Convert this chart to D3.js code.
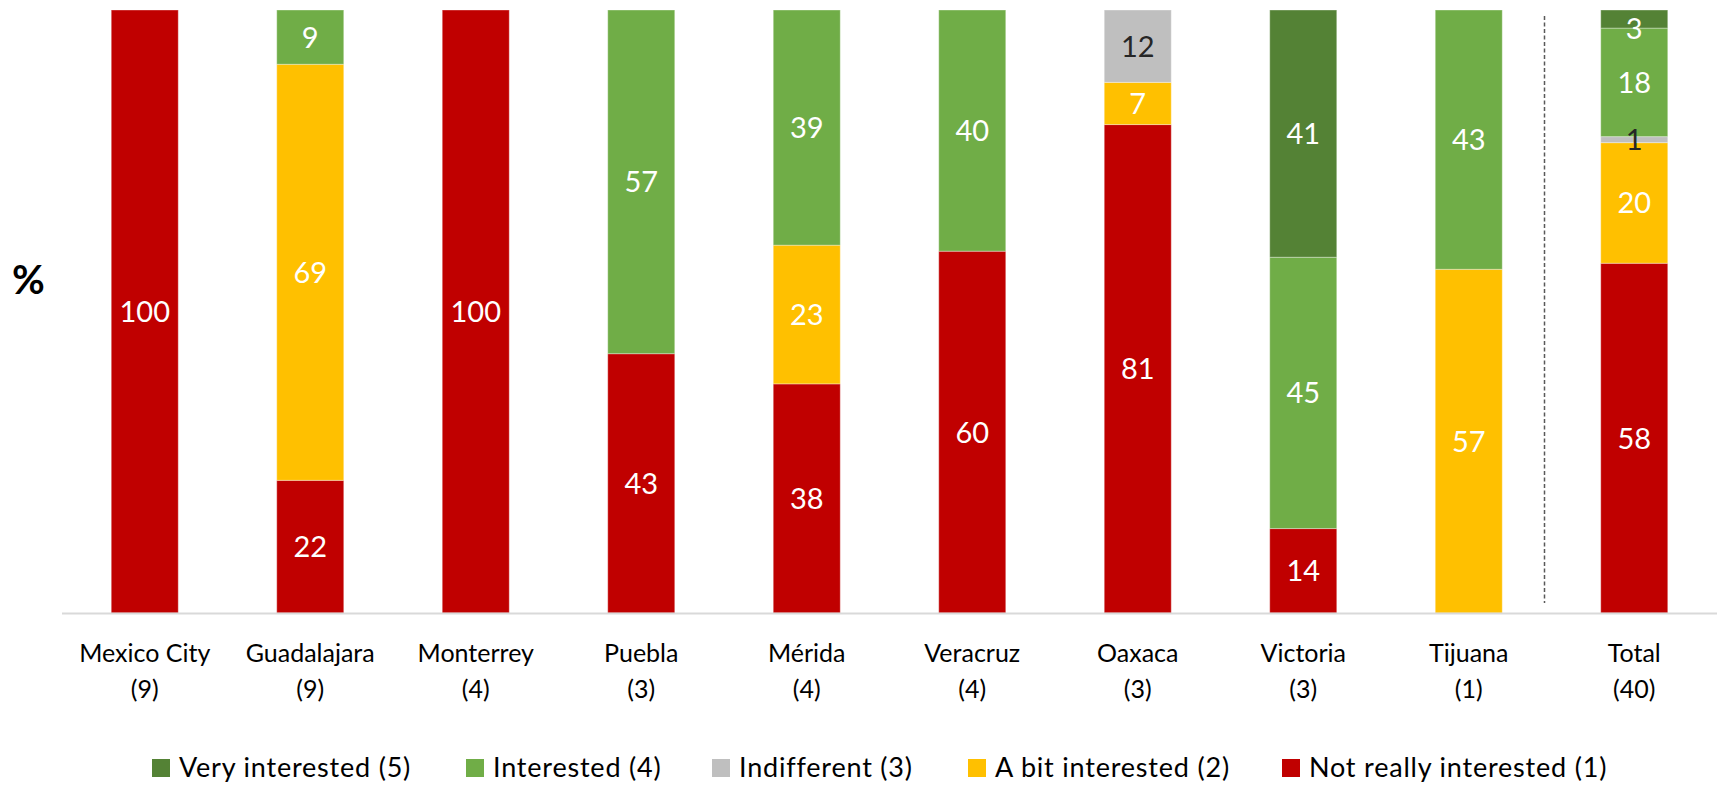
<!DOCTYPE html>
<html>
<head>
<meta charset="utf-8">
<script src="https://cdn.jsdelivr.net/npm/d3@7"></script>
<style>
  body { margin: 0; background: #fff; }
  svg { display: block; font-family: Lato, "Open Sans", sans-serif; }
</style>
</head>
<body>
<div id="myPlot"></div>
<script>
// categories and sample sizes
const cities = ["Mexico City", "Guadalajara", "Monterrey", "Puebla", "Mérida", "Veracruz", "Oaxaca", "Victoria", "Tijuana", "Total"];
const counts = ["(9)", "(9)", "(4)", "(3)", "(4)", "(4)", "(3)", "(3)", "(1)", "(40)"];

// series values in %, one array per answer
const notReally   = [100, 22, 100, 43, 38, 60, 81, 14, 0, 58];
const aBit        = [0, 69, 0, 0, 23, 0, 7, 0, 57, 20];
const indifferent = [0, 0, 0, 0, 0, 0, 12, 0, 0, 1];
const interested  = [0, 9, 0, 57, 39, 40, 0, 45, 43, 18];
const veryInt     = [0, 0, 0, 0, 0, 0, 0, 41, 0, 3];

const seriesNames = ["Not really interested (1)", "A bit interested (2)", "Indifferent (3)", "Interested (4)", "Very interested (5)"];
const seriesValues = [notReally, aBit, indifferent, interested, veryInt];
const colors = ["#C00000", "#FFC000", "#BFBFBF", "#70AD47", "#548235"];
const labelColors = ["#fff", "#fff", "#262626", "#fff", "#fff"];

const width = 1719;
const height = 786;
const marginTop = 10;
const marginLeft = 62;
const marginRight = 2;
const baseY = 613;

const table = cities.map((c, i) => {
  const row = {city: c};
  seriesNames.forEach((s, j) => row[s] = seriesValues[j][i]);
  return row;
});
const stacked = d3.stack().keys(seriesNames)(table);

const x = d3.scalePoint()
    .domain(cities)
    .range([marginLeft, width - marginRight])
    .padding(0.5);
const barW = x.step() * 0.405;

const y = d3.scaleLinear()
    .domain([0, 100])
    .range([baseY, marginTop]);

const svg = d3.select("#myPlot")
  .append("svg")
    .attr("width", width)
    .attr("height", height)
    .attr("viewBox", [0, 0, width, height]);

// bars
svg.append("g")
  .selectAll("g")
  .data(stacked)
  .join("g")
    .attr("fill", (d, i) => colors[i])
  .selectAll("rect")
  .data(d => d.filter(p => p[1] - p[0] > 0))
  .join("rect")
    .attr("x", d => x(d.data.city) - barW / 2)
    .attr("y", d => y(d[1]))
    .attr("width", barW)
    .attr("height", d => y(d[0]) - y(d[1]))
    .attr("stroke", "#fff")
    .attr("stroke-opacity", 0.35)
    .attr("stroke-width", 1);

// value labels, drawn above all bars so thin segments keep their number
svg.append("g")
  .selectAll("g")
  .data(stacked)
  .join("g")
    .attr("fill", (d, i) => labelColors[i])
  .selectAll("text")
  .data(d => d.filter(p => p[1] - p[0] > 0))
  .join("text")
    .attr("x", d => x(d.data.city))
    .attr("y", d => Math.max(y((d[0] + d[1]) / 2), marginTop + 19))
    .attr("dy", "0.36em")
    .attr("text-anchor", "middle")
    .style("font-size", "29px")
    .text(d => d[1] - d[0]);

// baseline
svg.append("line")
    .attr("x1", marginLeft)
    .attr("x2", width - marginRight)
    .attr("y1", baseY + 0.5)
    .attr("y2", baseY + 0.5)
    .attr("stroke", "#D9D9D9")
    .attr("stroke-width", 2);

// separator before Total
const sepX = (x("Tijuana") + x("Total")) / 2 - 7;
svg.append("line")
    .attr("x1", sepX)
    .attr("x2", sepX)
    .attr("y1", 16)
    .attr("y2", 603)
    .attr("stroke", "#595959")
    .attr("stroke-width", 1.5)
    .attr("stroke-dasharray", "4 2.5");

// category labels
const cat = svg.append("g")
    .attr("text-anchor", "middle")
    .attr("fill", "#000")
    .style("font-size", "25px");
cat.selectAll(".name")
  .data(cities)
  .join("text")
    .attr("class", "name")
    .attr("x", d => x(d))
    .attr("y", 662)
    .text(d => d);
cat.selectAll(".count")
  .data(counts)
  .join("text")
    .attr("class", "count")
    .attr("x", (d, i) => x(cities[i]))
    .attr("y", 698)
    .text(d => d);

// y label
svg.append("text")
    .attr("x", 12)
    .attr("y", 294)
    .style("font-size", "40px")
    .style("font-weight", "bold")
    .text("%");

// legend, top series first
const legendX = [152, 466, 712, 968, 1282];
const legend = svg.append("g")
  .selectAll("g")
  .data(seriesNames.slice().reverse())
  .join("g")
    .attr("transform", (d, i) => `translate(${legendX[i]},759)`);
legend.append("rect")
    .attr("width", 18)
    .attr("height", 18)
    .attr("fill", (d, i) => colors[4 - i]);
legend.append("text")
    .attr("x", 27)
    .attr("y", 18)
    .style("font-size", "27px")
    .style("letter-spacing", "0.8px")
    .text(d => d);
</script>
</body>
</html>
